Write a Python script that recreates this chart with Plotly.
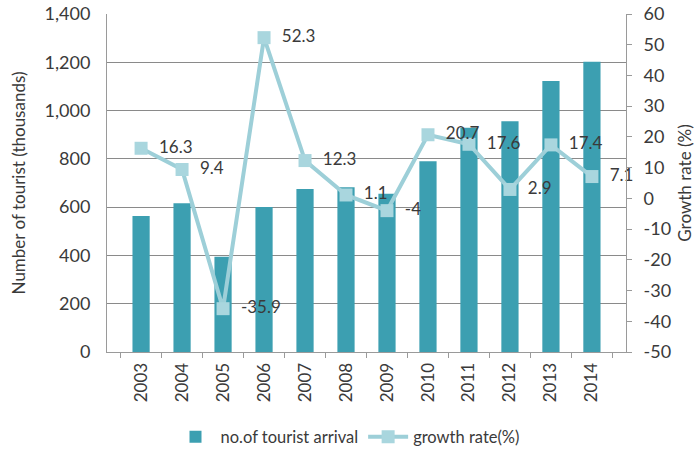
import plotly.graph_objects as go

years = ["2003", "2004", "2005", "2006", "2007", "2008", "2009", "2010", "2011", "2012", "2013", "2014"]
arrivals = [563, 616, 395, 601, 675, 682, 655, 790, 929, 956, 1122, 1202]
growth = [16.3, 9.4, -35.9, 52.3, 12.3, 1.1, -4, 20.7, 17.6, 2.9, 17.4, 7.1]
growth_labels = ["16.3", "9.4", "-35.9", "52.3", "12.3", "1.1", "-4", "20.7", "17.6", "2.9", "17.4", "7.1"]
growth_ticks = [-50, -40, -30, -20, -10, 0, 10, 20, 30, 40, 50, 60]
growth_tick_text = ["-50", "-40", "-30", "-20", "-10", "0", "10", "20", "30", "40", "50", "60"]

bar_color = "#3c9fb1"
line_color = "#9dcfd8"
text_color = "#3a3a3a"
font_family = "Lato, 'Open Sans', sans-serif"

fig = go.Figure()
fig.add_trace(go.Bar(
    x=years, y=arrivals, name="no.of tourist arrival",
    marker=dict(color=bar_color, line=dict(width=0)),
    yaxis="y",
))
fig.add_trace(go.Scatter(
    x=years, y=growth, name="growth rate(%)",
    mode="lines+markers+text",
    line=dict(color=line_color, width=4),
    marker=dict(symbol="square", size=13, color="#a9d6de"),
    text=["  " + t for t in growth_labels],
    textposition="middle right",
    textfont=dict(size=17, color=text_color, family=font_family),
    yaxis="y2",
    cliponaxis=False,
))

fig.update_layout(
    width=696, height=452,
    margin=dict(l=107, r=70, t=14, b=100, autoexpand=False),
    paper_bgcolor="white", plot_bgcolor="white",
    font=dict(family=font_family, color=text_color, size=17),
    bargap=0.58,
    showlegend=True,
    legend=dict(orientation="h", x=0.5, xanchor="center", xref="container",
                y=0.033, yanchor="middle", yref="container",
                font=dict(size=16.5, color=text_color), itemwidth=40,
                traceorder="normal"),
    xaxis=dict(
        type="category", tickangle=-90, showline=True, linecolor="#9a9a9a", linewidth=1,
        ticks="outside", ticklen=5, tickcolor="#9a9a9a", tickson="boundaries",
        tickfont=dict(size=17, color=text_color), showgrid=False, automargin=False,
        ticklabelstandoff=3,
    ),
    yaxis=dict(
        range=[0, 1400], dtick=200, tickformat=",d",
        showline=True, linecolor="#9a9a9a", linewidth=1,
        showgrid=True, gridcolor="#8a8a8a", gridwidth=1,
        ticks="", tickfont=dict(size=18, color=text_color), ticklabelstandoff=12,
        title=dict(text="Number of tourist (thousands)", font=dict(size=17, color=text_color), standoff=14),
        zeroline=False, automargin=False,
    ),
    yaxis2=dict(
        range=[-50, 60], tickmode="array", tickvals=growth_ticks, ticktext=growth_tick_text,
        overlaying="y", side="right",
        showline=True, linecolor="#9a9a9a", linewidth=1,
        showgrid=False, zeroline=False,
        ticks="outside", ticklen=5, tickcolor="#9a9a9a",
        tickfont=dict(size=18, color=text_color), ticklabelstandoff=8,
        title=dict(text="Growth rate (%)", font=dict(size=17, color=text_color), standoff=8),
        automargin=False,
    ),
)

fig.write_html("out.html")
